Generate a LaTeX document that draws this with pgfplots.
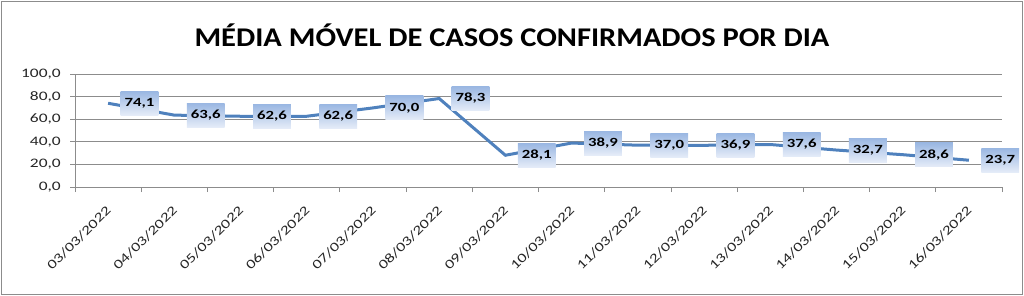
\documentclass[border=0pt]{standalone}
\usepackage{pgfplots}
\pgfplotsset{compat=1.18}
\usepackage{fontspec}
\setmainfont{Carlito}
\usepackage{graphicx}
\newcommand\sx[1]{\scalebox{1.34}[1]{#1}}
\definecolor{linec}{HTML}{4F81BD}
\definecolor{axgray}{HTML}{8C8C8C}
\definecolor{boxtop}{HTML}{9AB7E2}
\definecolor{boxbot}{HTML}{E5ECF8}
\definecolor{txt}{HTML}{262626}
\pgfkeys{/pgf/number format/assume math mode=true}
\begin{document}
\begin{tikzpicture}[x=1pt,y=1pt]
\useasboundingbox (0,0) rectangle (1024,-296);
\draw[axgray, line width=1.5pt] (1.5,-1.5) rectangle (1022.5,-294.5);
\node[font=\fontsize{27}{30}\selectfont\bfseries, inner sep=0pt] at (512,-35) {\scalebox{1.13}[1]{MÉDIA MÓVEL DE CASOS CONFIRMADOS POR DIA}};
\begin{axis}[
  at={(75pt,-187pt)}, anchor=south west,
  scale only axis, width=927pt, height=113pt,
  xmin=-0.5, xmax=13.5, ymin=0, ymax=100,
  xtick={0,...,13},
  xticklabels={\sx{03/03/2022},\sx{04/03/2022},\sx{05/03/2022},\sx{06/03/2022},\sx{07/03/2022},\sx{08/03/2022},\sx{09/03/2022},\sx{10/03/2022},\sx{11/03/2022},\sx{12/03/2022},\sx{13/03/2022},\sx{14/03/2022},\sx{15/03/2022},\sx{16/03/2022}},
  minor xtick={-0.5,0.5,...,13.5},
  ytick={0,20,...,100},
  yticklabel={\sx{\pgfmathprintnumber[fixed,fixed zerofill,precision=1,use comma,assume math mode=true]{\tick}}},
  tick align=outside,
  major tick length=5pt, minor tick length=5pt,
  major x tick style={draw=none},
  every tick/.style={axgray, line width=0.8pt},
  axis line style={axgray, line width=0.8pt},
  axis x line*=bottom, axis y line*=left,
  ymajorgrids, grid style={axgray, line width=0.8pt},
  ticklabel style={font=\fontsize{13}{15}\selectfont, text=txt},
  xticklabel style={rotate=45, anchor=east, inner sep=1pt, xshift=-10pt, yshift=-12pt},
  yticklabel style={inner sep=2pt, xshift=-7pt},
  nodes near coords={\sx{\pgfmathprintnumber[fixed,fixed zerofill,precision=1,use comma,assume math mode=true]{\pgfplotspointmeta}}},
  nodes near coords align={horizontal},
  every node near coord/.append style={anchor=west, xshift=11pt, font=\fontsize{12.5}{14}\selectfont\bfseries, text=black,
     top color=boxtop, bottom color=boxbot, inner xsep=4pt, minimum height=24pt},
]
\addplot[linec, line width=3pt, mark=none] coordinates {
(0,74.1) (1,63.6) (2,62.6) (3,62.6) (4,70.0) (5,78.3) (6,28.1)
(7,38.9) (8,37.0) (9,36.9) (10,37.6) (11,32.7) (12,28.6) (13,23.7)};
\end{axis}
\end{tikzpicture}
\end{document}
